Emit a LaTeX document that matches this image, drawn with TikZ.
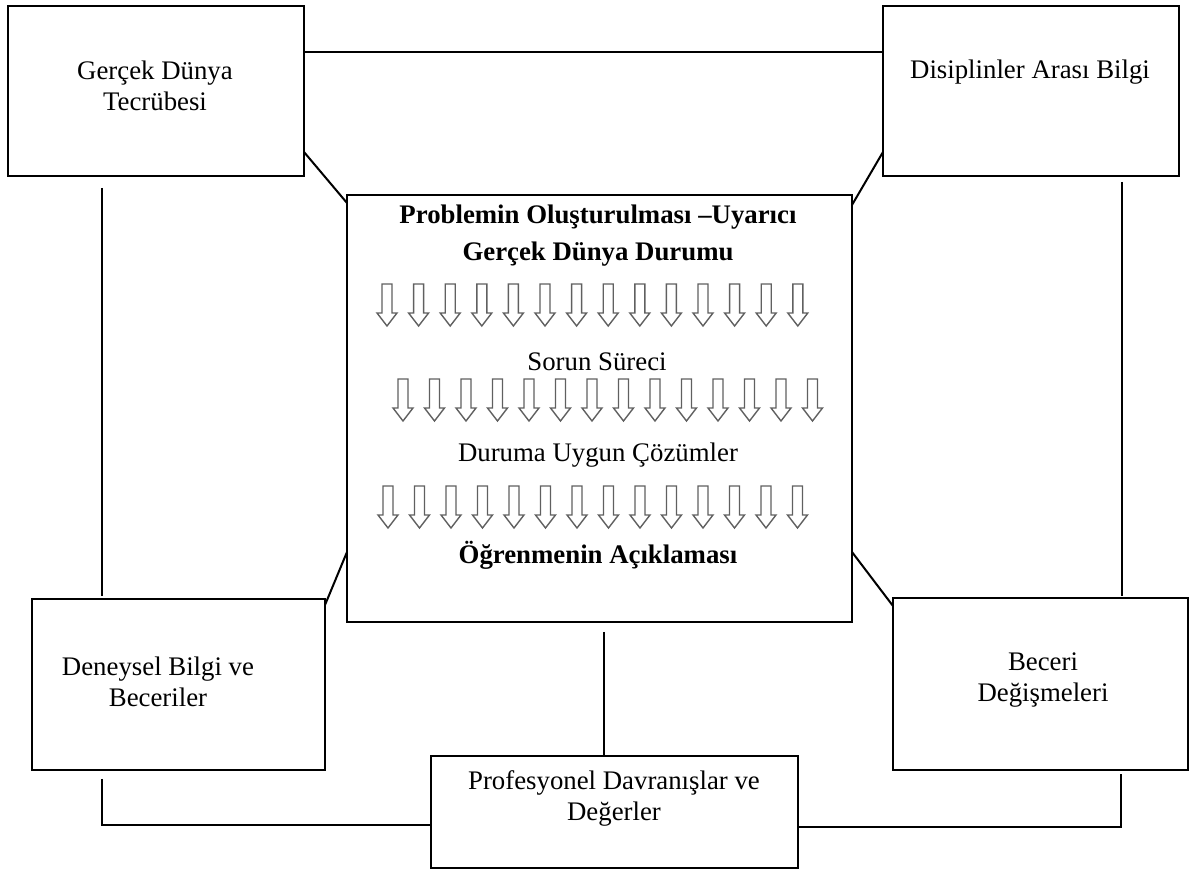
\documentclass[tikz,border=0pt]{standalone}
\usepackage{fontspec}
\setmainfont{Liberation Serif}
\usetikzlibrary{calc}

\tikzset{
  box/.style={draw, line width=1.2pt, inner sep=0pt, outer sep=0pt},
  link/.style={line width=1pt},
  txt/.style={align=center, inner sep=0pt, font=\fontsize{13.4}{15.5}\selectfont},
  hdr/.style={align=center, inner sep=0pt, font=\fontsize{13.4}{18.5}\selectfont\bfseries},
  pics/downarrow/.style={code={
    \draw[gray!75!black, line width=0.7pt, line join=miter]
      (-5,0) -- (-5,29) -- (-10,29) -- (0,42) -- (10,29) -- (5,29) -- (5,0) -- cycle;}}
}

\begin{document}
\begin{tikzpicture}[x=0.5pt, y=-0.5pt]
  \useasboundingbox (0,0) rectangle (1196,870);
  % corner boxes
  \node[box, minimum width=148pt, minimum height=85pt] (tl) at (156,91) {};
  \node[box, minimum width=148pt, minimum height=85pt] (tr) at (1031,91) {};
  \node[box, minimum width=146.5pt, minimum height=85.5pt] (bl) at (178.5,684.5) {};
  \node[box, minimum width=147.5pt, minimum height=86pt] (br) at (1040.5,684) {};
  \node[box, minimum width=183.5pt, minimum height=56pt] (bb) at (614.5,812) {};
  % centre box
  \node[box, minimum width=252.5pt, minimum height=213.5pt] (cb) at (599.5,408.5) {};
  % box texts
  \node[txt] (tl-txt) at (155,86) {Gerçek Dünya\\Tecrübesi};
  \node[txt] (tr-txt) at (1030,72) {Disiplinler Arası Bilgi};
  \node[txt] (bl-txt) at (158,682) {Deneysel Bilgi ve\\Beceriler};
  \node[txt] (br-txt) at (1043,680) {Beceri\\Değişmeleri};
  \node[txt] (bb-txt) at (614,798) {Profesyonel Davranışlar ve\\Değerler};
  % centre texts
  \node[hdr] (problem) at (598,236) {Problemin Oluşturulması –Uyarıcı\\Gerçek Dünya Durumu};
  \node[txt] (process) at (597,362) {Sorun Süreci};
  \node[txt] (solution) at (598,455) {Duruma Uygun Çözümler};
  \node[hdr] (learning) at (598,555) {Öğrenmenin Açıklaması};
  % rows of hollow arrows
  \foreach \i in {0,...,13} {
    \pic at (387+31.6*\i,284) {downarrow};
    \pic at (403+31.5*\i,379) {downarrow};
    \pic at (388+31.5*\i,486) {downarrow};
  }
  % connectors
  \draw[link] (tl.east |- 0,52) -- (tr.west |- 0,52);
  \draw[link] (tl.east |- 0,152) -- (cb.west |- 0,203);
  \draw[link] (tr.west |- 0,152) -- (cb.east |- 0,205);
  \draw[link] (cb.west |- 0,552) -- (bl.east |- 0,605);
  \draw[link] (cb.east |- 0,552) -- (br.west |- 0,606);
  \draw[link] ($(tl.south -| 102,0)+(0,12)$) -- ($(bl.north -| 102,0)+(0,-3)$);
  \draw[link] ($(tr.south -| 1122,0)+(0,6)$) -- ($(br.north -| 1122,0)+(0,-2)$);
  \draw[link] ($(cb.south)+(4.5,10)$) -- (bb.north -| 604,0);
  \draw[link] ($(bl.south -| 102,0)+(0,9)$) -- (102,825) -- (bb.west |- 0,825);
  \draw[link] (bb.east |- 0,827) -- (1121,827) -- ($(br.south -| 1121,0)+(0,4)$);
\end{tikzpicture}
\end{document}
